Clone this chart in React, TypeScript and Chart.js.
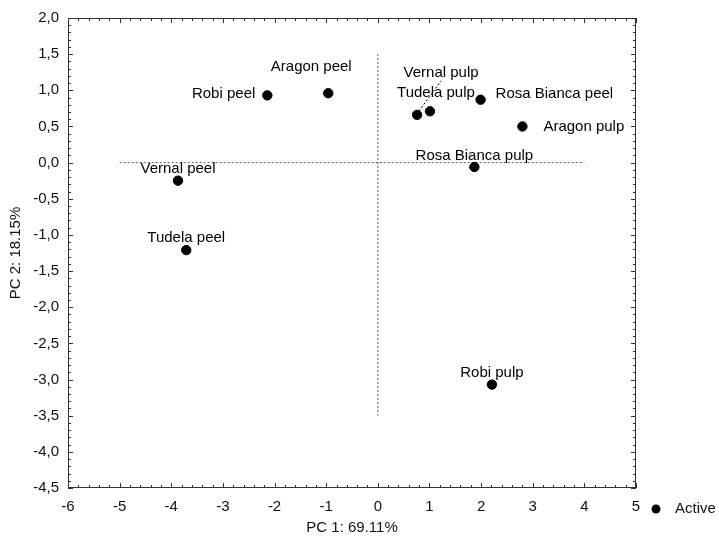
import { useEffect, useRef } from 'react';
import { Chart, registerables } from 'chart.js';

Chart.register(...registerables);

// ---- data ----
const sampleNames = [
  'Robi peel',
  'Aragon peel',
  'Vernal peel',
  'Tudela peel',
  'Vernal pulp',
  'Tudela pulp',
  'Rosa Bianca peel',
  'Aragon pulp',
  'Rosa Bianca pulp',
  'Robi pulp',
];
const pc1Scores = [-2.14, -0.96, -3.87, -3.71, 0.76, 1.01, 1.99, 2.8, 1.87, 2.21];
const pc2Scores = [0.93, 0.96, -0.25, -1.21, 0.66, 0.71, 0.87, 0.5, -0.06, -3.07];

const xRange = [-6, 5];
const xStep = 1;
const xMinorStep = 0.2;
const yRange = [-4.5, 2];
const yStep = 0.5;
const yMinorStep = 0.1;

const refHorizontalX = [-5, 4];
const refHorizontalY = [0, 0];
const refVerticalX = [0, 0];
const refVerticalY = [1.5, -3.5];

const xTitle = 'PC 1: 69.11%';
const yTitle = 'PC 2: 18.15%';
const legendLabel = 'Active';

// ---- label placement (style, pixels relative to point) ----
const labelDx = [-12, -17, 0, 0, 24, 6, 15, 21, 0, 0];
const labelDy = [-2, -26, -12, -12, -42, -18, -6, 0, -11, -12];
const labelAlign: CanvasTextAlign[] = [
  'right', 'center', 'center', 'center', 'center', 'center', 'left', 'left', 'center', 'center',
];
const leaderIndex = 4;

const FONT_FAMILY = '"Liberation Sans", Arial, Helvetica, sans-serif';
const FONT_SIZE = 15;

const decorPlugin = {
  id: 'pcaDecor',
  afterDraw(chart: any) {
    const { ctx, chartArea: a, scales } = chart;
    const x = scales.x;
    const y = scales.y;
    ctx.save();

    // frame
    ctx.strokeStyle = '#333';
    ctx.lineWidth = 1;
    ctx.strokeRect(a.left + 0.5, a.top + 0.5, a.right - a.left - 1, a.bottom - a.top - 1);

    // inside ticks
    ctx.beginPath();
    const nx = Math.round((xRange[1] - xRange[0]) / xMinorStep);
    for (let i = 0; i <= nx; i++) {
      const v = xRange[0] + i * xMinorStep;
      const r = v / xStep;
      const major = Math.abs(r - Math.round(r)) < 1e-6;
      const len = major ? 5 : 3;
      const px = Math.round(x.getPixelForValue(v)) + 0.5;
      ctx.moveTo(px, a.bottom);
      ctx.lineTo(px, a.bottom - len);
      ctx.moveTo(px, a.top);
      ctx.lineTo(px, a.top + len);
    }
    const ny = Math.round((yRange[1] - yRange[0]) / yMinorStep);
    for (let i = 0; i <= ny; i++) {
      const v = yRange[0] + i * yMinorStep;
      const r = v / yStep;
      const major = Math.abs(r - Math.round(r)) < 1e-6;
      const len = major ? 5 : 3;
      const py = Math.round(y.getPixelForValue(v)) + 0.5;
      ctx.moveTo(a.left, py);
      ctx.lineTo(a.left + len, py);
      ctx.moveTo(a.right, py);
      ctx.lineTo(a.right - len, py);
    }
    ctx.stroke();

    // leader line
    {
      const px = x.getPixelForValue(pc1Scores[leaderIndex]);
      const py = y.getPixelForValue(pc2Scores[leaderIndex]);
      ctx.beginPath();
      ctx.setLineDash([2, 2]);
      ctx.strokeStyle = '#000';
      ctx.moveTo(px + 2, py - 4);
      ctx.lineTo(px + 24, py - 34);
      ctx.stroke();
      ctx.setLineDash([]);
    }

    // point labels
    ctx.fillStyle = '#000';
    ctx.font = `${FONT_SIZE}px ${FONT_FAMILY}`;
    ctx.textBaseline = 'middle';
    sampleNames.forEach((name, i) => {
      const px = x.getPixelForValue(pc1Scores[i]);
      const py = y.getPixelForValue(pc2Scores[i]);
      ctx.textAlign = labelAlign[i];
      ctx.fillText(name, px + labelDx[i], py + labelDy[i]);
    });

    // axis titles
    ctx.textAlign = 'center';
    ctx.fillStyle = '#111';
    ctx.fillText(xTitle, (a.left + a.right) / 2, 528);
    ctx.save();
    ctx.translate(16, (a.top + a.bottom) / 2);
    ctx.rotate(-Math.PI / 2);
    ctx.fillText(yTitle, 0, 0);
    ctx.restore();

    // legend
    ctx.beginPath();
    ctx.fillStyle = '#000';
    ctx.arc(656, 509, 4.5, 0, Math.PI * 2);
    ctx.fill();
    ctx.textAlign = 'left';
    ctx.fillStyle = '#111';
    ctx.fillText(legendLabel, 675, 509);

    ctx.restore();
  },
};

export default function App() {
  const canvasRef = useRef<HTMLCanvasElement | null>(null);

  useEffect(() => {
    const canvas = canvasRef.current;
    if (!canvas) return;
    const points = pc1Scores.map((v, i) => ({ x: v, y: pc2Scores[i] }));
    const hLine = refHorizontalX.map((v, i) => ({ x: v, y: refHorizontalY[i] }));
    const vLine = refVerticalX.map((v, i) => ({ x: v, y: refVerticalY[i] }));

    const chart = new Chart(canvas, {
      type: 'scatter',
      data: {
        datasets: [
          {
            label: legendLabel,
            data: points,
            backgroundColor: '#000',
            borderColor: '#000',
            pointRadius: 4.7,
            pointHoverRadius: 4.7,
            order: 0,
          },
          {
            label: 'h',
            data: hLine,
            showLine: true,
            borderColor: '#555',
            borderWidth: 1,
            borderDash: [2, 2],
            pointRadius: 0,
            order: 1,
          },
          {
            label: 'v',
            data: vLine,
            showLine: true,
            borderColor: '#555',
            borderWidth: 1,
            borderDash: [2, 2],
            pointRadius: 0,
            order: 1,
          },
        ],
      },
      options: {
        responsive: false,
        animation: false,
        events: [],
        layout: { autoPadding: false, padding: { top: 14, right: 83, left: 0, bottom: 0 } },
        plugins: {
          legend: { display: false },
          tooltip: { enabled: false },
          title: { display: false },
        },
        scales: {
          x: {
            type: 'linear',
            min: xRange[0],
            max: xRange[1],
            grid: { display: false, drawTicks: false },
            border: { display: false },
            ticks: {
              stepSize: xStep,
              color: '#111',
              padding: 10,
              font: { family: FONT_FAMILY, size: FONT_SIZE },
              callback: (v: any) => String(v),
            },
            afterFit: (scale: any) => {
              scale.height = 52;
            },
          },
          y: {
            type: 'linear',
            min: yRange[0],
            max: yRange[1],
            grid: { display: false, drawTicks: false },
            border: { display: false },
            ticks: {
              stepSize: yStep,
              color: '#111',
              padding: 9,
              font: { family: FONT_FAMILY, size: FONT_SIZE },
              callback: (v: any) => Number(v).toFixed(1).replace('.', ','),
            },
            afterFit: (scale: any) => {
              scale.width = 68;
            },
          },
        },
      },
      plugins: [decorPlugin],
    });
    return () => chart.destroy();
  }, []);

  return (
    <div style={{ position: 'absolute', left: 0, top: 0, width: 719, height: 540, background: '#fff' }}>
      <canvas ref={canvasRef} width={719} height={540} style={{ display: 'block' }} />
    </div>
  );
}
